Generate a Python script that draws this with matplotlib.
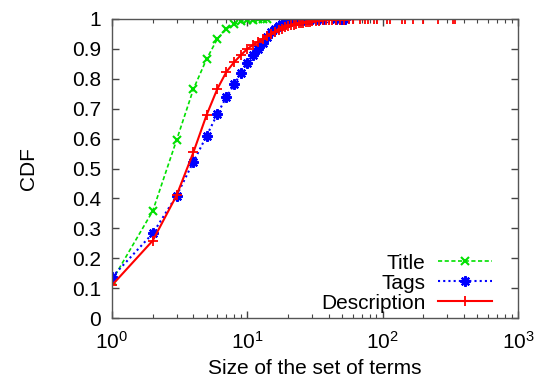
import matplotlib
matplotlib.use("Agg")
import matplotlib.pyplot as plt
from matplotlib.ticker import LogLocator, FixedLocator

plt.rcParams['font.family'] = ['Liberation Sans', 'DejaVu Sans']
plt.rcParams['mathtext.fontset'] = 'custom'
plt.rcParams['mathtext.rm'] = 'Liberation Sans'

# Title series
title_x = [1, 2, 3, 4, 5, 6, 7, 8, 9, 10, 11, 12, 13, 14]
title_y = [0.125, 0.358, 0.595, 0.766, 0.866, 0.933, 0.966, 0.983, 0.992,
           0.996, 0.998, 0.999, 1.0, 1.0]

# Tags series
tags_x = [1, 2, 3, 4, 5, 6, 7, 8, 9, 10, 11, 12, 13, 14, 15, 16, 17, 18, 19,
          20, 21, 22, 23, 24, 25, 26, 27, 28, 29, 30, 32, 34, 36, 45, 48, 50, 53]
tags_y = [0.137, 0.283, 0.409, 0.523, 0.609, 0.682, 0.739, 0.781, 0.82,
          0.853, 0.878, 0.90, 0.92, 0.94, 0.955, 0.966, 0.975, 0.982, 0.987,
          0.991, 0.993, 0.995, 0.996, 0.997, 0.998, 0.998, 0.999, 0.999, 0.999,
          1.0, 1.0, 1.0, 1.0, 1.0, 1.0, 1.0, 1.0]

# Description series
desc_x = [1, 2, 3, 4, 5, 6, 7, 8, 9, 10, 11, 12, 13, 14, 15, 16, 17, 18, 19,
          20, 21, 22, 23, 24, 25, 26, 27, 28, 29, 30, 32, 34, 36, 38, 40, 42,
          45, 48, 52, 56, 60, 68, 74, 78, 87, 91, 108, 113, 139, 145, 167,
          198, 258, 331, 345]
desc_y = [0.11, 0.259, 0.41, 0.555, 0.679, 0.766, 0.823, 0.856, 0.88,
          0.90, 0.913, 0.924, 0.933, 0.942, 0.95, 0.957, 0.963, 0.968, 0.972,
          0.976, 0.979, 0.981, 0.983, 0.985, 0.987, 0.988, 0.989, 0.990, 0.991,
          0.992, 0.993, 0.994, 0.995, 0.996, 0.996, 0.997, 0.997, 0.998, 0.998,
          0.999, 0.999, 0.999, 0.999, 1.0, 1.0, 1.0, 1.0, 1.0, 1.0, 1.0, 1.0,
          1.0, 1.0, 1.0, 1.0]

xlabel = "Size of the set of terms"
ylabel = "CDF"
yticks = [0, 0.1, 0.2, 0.3, 0.4, 0.5, 0.6, 0.7, 0.8, 0.9, 1]
ytick_labels = ["0", "0.1", "0.2", "0.3", "0.4", "0.5", "0.6", "0.7", "0.8", "0.9", "1"]

fig = plt.figure(figsize=(5.41, 3.87), dpi=100)
ax = fig.add_axes([0.207, 0.178, 0.7505, 0.773])

ax.plot(title_x, title_y, color='#00e000', linestyle=(0, (2.5, 1.5)), lw=1.2,
        marker='x', markersize=6, markeredgewidth=1.5, label='Title')
ax.plot(tags_x, tags_y, color='#0000ff', linestyle=(0, (1, 1.5)), lw=1.5,
        marker=(8, 2, 0), markersize=7.5, markeredgewidth=1.6, label='Tags')
ax.plot(desc_x, desc_y, color='#ff0000', linestyle='-', lw=1.5,
        marker='+', markersize=7, markeredgewidth=1.3, label='Description')

ax.set_xscale('log')
ax.set_xlim(1, 1000)
ax.set_ylim(0, 1)
ax.set_yticks(yticks)
ax.set_yticklabels(ytick_labels)
ax.xaxis.set_major_locator(FixedLocator([1, 10, 100, 1000]))
ax.xaxis.set_minor_locator(LogLocator(base=10, subs=range(2, 10), numticks=20))

ax.tick_params(which='both', direction='in', top=True, right=True,
               color='#444444', labelsize=15)
ax.tick_params(which='major', length=5, width=1)
ax.tick_params(which='minor', length=3, width=0.8)
ax.tick_params(axis='x', which='major', pad=9)
ax.tick_params(axis='y', which='major', pad=8)
for s in ax.spines.values():
    s.set_color('#555555')
    s.set_linewidth(1.0)

ax.set_xlabel(xlabel, fontsize=15, labelpad=5)
ax.set_ylabel(ylabel, fontsize=15, labelpad=24)

leg = ax.legend(loc='lower right', frameon=False, markerfirst=False,
                fontsize=15, handlelength=2.6, handletextpad=0.6,
                labelspacing=0.05, borderaxespad=0.1,
                bbox_to_anchor=(0.962, -0.017))
for col in leg._legend_handle_box.get_children():
    col.align = 'right'

fig.savefig('out.png', dpi=100)
